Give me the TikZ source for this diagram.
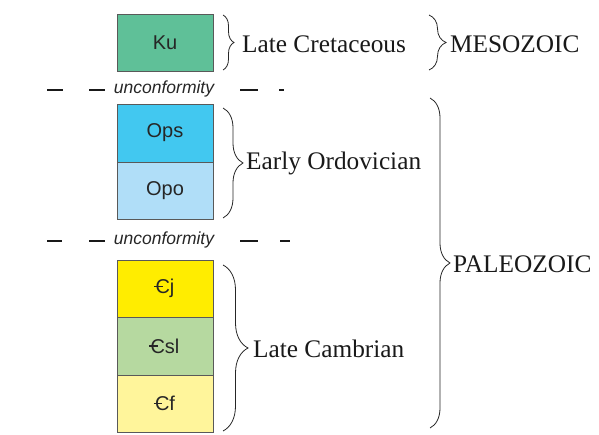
\documentclass[tikz,border=0pt]{standalone}
\usepackage{fontspec}
\setmainfont{Liberation Serif}
\setsansfont{Liberation Sans}
\usetikzlibrary{decorations.pathreplacing}

% Cambrian period sign: a C crossed by a short bar
\newcommand{\cambsign}{\leavevmode\rlap{\kern-0.06em\raisebox{0.33em}{\rule{0.42em}{0.075em}}}C}

\tikzset{
  unit box/.style={draw=black!65, line width=0.8pt, minimum width=96pt,
    inner sep=0pt, font=\sffamily\fontsize{20}{20}\selectfont, text=black!85},
  age label/.style={anchor=west, inner sep=0pt,
    font=\rmfamily\fontsize{25.3}{25.3}\selectfont, text=black!90},
  era brace/.style={decorate, line width=0.8pt, draw=black!85},
  gap text/.style={inner sep=0pt, font=\sffamily\itshape\fontsize{17.5}{17.5}\selectfont, text=black!85},
  gap dash/.style={line width=1.9pt, draw=black!90}
}

\begin{document}
\begin{tikzpicture}[x=1pt, y=-1pt]
\useasboundingbox (0,0) rectangle (599,435);

% rock units
\node[unit box, fill={rgb,255:red,95;green,192;blue,152}, minimum height=57pt] (ku) at (165,42.5) {Ku};
\node[unit box, fill={rgb,255:red,66;green,200;blue,240}, minimum height=58pt] (ops) at (165,133) {Ops};
\node[unit box, fill={rgb,255:red,176;green,222;blue,248}, minimum height=57pt] (opo) at (165,190.5) {Opo};
\node[unit box, fill={rgb,255:red,255;green,237;blue,0}, minimum height=57pt] (cj) at (165,288.5) {\cambsign j};
\node[unit box, fill={rgb,255:red,182;green,217;blue,160}, minimum height=58pt] (csl) at (165,346) {\cambsign sl};
\node[unit box, fill={rgb,255:red,255;green,245;blue,155}, minimum height=57pt] (cf) at (165,403.5) {\cambsign f};

% unconformities
\node[gap text] (u1) at (164,89) {unconformity};
\node[gap text] (u2) at (164,240) {unconformity};
\draw[gap dash] (47,90) -- (63,90) (89,90) -- (105,90) (240,90) -- (258,90) (279,90) -- (284,90);
\draw[gap dash] (47,241) -- (62,241) (89,241) -- (105,241) (240,241) -- (258,241) (280,241) -- (290,241);

% epoch braces
\coordinate (kt) at (223,15);   \coordinate (kb) at (223,70);
\coordinate (ot) at (223,108);  \coordinate (ob) at (223,218);
\coordinate (ct) at (223,265);  \coordinate (cb) at (223,431);
\draw[era brace, decoration={brace, amplitude=11pt}] (kt) -- (kb);
\draw[era brace, decoration={brace, amplitude=20pt}] (ot) -- (ob);
\draw[era brace, decoration={brace, amplitude=25pt}] (ct) -- (cb);
\node[age label] (late cret) at (242,44) {Late Cretaceous};
\node[age label] (early ord) at (246,163) {Early Ordovician};
\node[age label] (late camb) at (253,349) {Late Cambrian};

% era braces
\coordinate (mt) at (429,15);  \coordinate (mb) at (429,70);
\coordinate (pt) at (430,98);  \coordinate (pb) at (430,428);
\draw[era brace, decoration={brace, amplitude=17pt}] (mt) -- (mb);
\draw[era brace, decoration={brace, amplitude=20pt}] (pt) -- (pb);
\node[age label] (meso) at (450,44) {MESOZOIC};
\node[age label] (paleo) at (453,264) {PALEOZOIC};
\end{tikzpicture}
\end{document}
